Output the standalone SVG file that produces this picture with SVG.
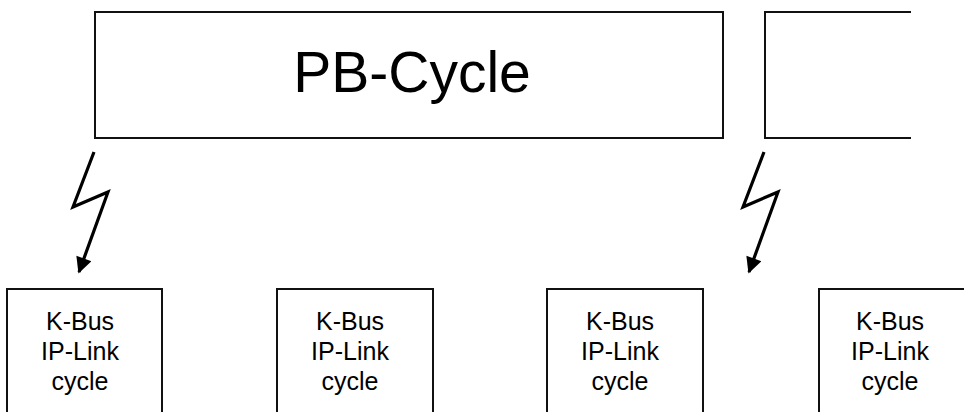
<svg xmlns="http://www.w3.org/2000/svg" width="964" height="412" viewBox="0 0 964 412">
<style>
.box{fill:#fff;stroke:#111;stroke-width:2}
.bolt{fill:none;stroke:#000;stroke-width:3.2;stroke-linejoin:miter}
.t{font-family:"Liberation Sans",Arial,sans-serif;fill:#000;text-anchor:middle}
.big{font-size:57px}
.sm{font-size:25px}
</style>
<defs>
<marker id="ah" viewBox="0 0 10 10" refX="9" refY="5" markerWidth="7" markerHeight="5" markerUnits="strokeWidth" orient="auto">
<path d="M0,0 L10,5 L0,10 z" fill="#000"/>
</marker>
</defs>
<rect width="964" height="412" fill="#fff"/>
<g id="pb-cycle">
<rect class="box" x="95" y="12" width="628" height="126"/>
<text class="t big" x="412" y="92">PB-Cycle</text>
</g>
<g id="pb-cycle-next">
<path class="box" d="M911,12 H765 V138 H911"/>
</g>
<g id="kbus1">
<rect class="box" x="7" y="289" width="155" height="140"/>
<text class="t sm" x="80" y="330">K-Bus</text>
<text class="t sm" x="80" y="360">IP-Link</text>
<text class="t sm" x="80" y="390">cycle</text>
</g>
<g id="kbus2">
<rect class="box" x="277" y="289" width="156" height="140"/>
<text class="t sm" x="350" y="330">K-Bus</text>
<text class="t sm" x="350" y="360">IP-Link</text>
<text class="t sm" x="350" y="390">cycle</text>
</g>
<g id="kbus3">
<rect class="box" x="547" y="289" width="156" height="140"/>
<text class="t sm" x="620" y="330">K-Bus</text>
<text class="t sm" x="620" y="360">IP-Link</text>
<text class="t sm" x="620" y="390">cycle</text>
</g>
<g id="kbus4">
<rect class="box" x="819" y="289" width="156" height="140"/>
<text class="t sm" x="890" y="330">K-Bus</text>
<text class="t sm" x="890" y="360">IP-Link</text>
<text class="t sm" x="890" y="390">cycle</text>
</g>
<g id="connectors">
<polyline class="bolt" points="94,152 73,207 108,192 79,272" marker-end="url(#ah)"/>
<polyline class="bolt" points="764,152 743,207 778,192 749,272" marker-end="url(#ah)"/>
</g>
</svg>
